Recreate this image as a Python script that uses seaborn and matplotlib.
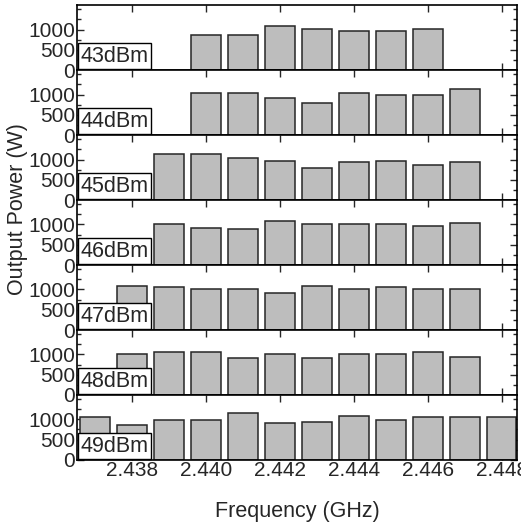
import matplotlib
matplotlib.use("Agg")
import matplotlib.pyplot as plt
from matplotlib.ticker import MultipleLocator
import seaborn as sns
import pandas as pd

# drive levels, one panel each
levels = ["43dBm", "44dBm", "45dBm", "46dBm", "47dBm", "48dBm", "49dBm"]

freq_43 = [2.440, 2.441, 2.442, 2.443, 2.444, 2.445, 2.446]
power_43 = [877, 877, 1098, 1008, 975, 975, 1008]

freq_44 = [2.440, 2.441, 2.442, 2.443, 2.444, 2.445, 2.446, 2.447]
power_44 = [1040, 1040, 927, 798, 1040, 992, 992, 1129]

freq_45 = [2.439, 2.440, 2.441, 2.442, 2.443, 2.444, 2.445, 2.446, 2.447]
power_45 = [1128, 1128, 1048, 966, 797, 928, 966, 862, 928]

freq_46 = [2.439, 2.440, 2.441, 2.442, 2.443, 2.444, 2.445, 2.446, 2.447]
power_46 = [1000, 920, 888, 1080, 1000, 1000, 1000, 960, 1040]

freq_47 = [2.438, 2.439, 2.440, 2.441, 2.442, 2.443, 2.444, 2.445, 2.446, 2.447]
power_47 = [1089, 1049, 1008, 1008, 902, 1089, 1008, 1049, 1008, 1008]

freq_48 = [2.438, 2.439, 2.440, 2.441, 2.442, 2.443, 2.444, 2.445, 2.446, 2.447]
power_48 = [1008, 1057, 1057, 902, 1008, 902, 1008, 1008, 1057, 943]

freq_49 = [2.437, 2.438, 2.439, 2.440, 2.441, 2.442, 2.443, 2.444, 2.445,
           2.446, 2.447, 2.448]
power_49 = [1057, 869, 984, 984, 1148, 902, 943, 1090, 984, 1057, 1057, 1057]

freqs = [freq_43, freq_44, freq_45, freq_46, freq_47, freq_48, freq_49]
powers = [power_43, power_44, power_45, power_46, power_47, power_48, power_49]

x_ticks = [2.438, 2.440, 2.442, 2.444, 2.446, 2.448]
y_ticks = [0, 500, 1000]

sns.set_style("ticks")
plt.rcParams["font.family"] = ["Liberation Sans", "DejaVu Sans"]
plt.rcParams["font.size"] = 15

fig, axes = plt.subplots(len(levels), 1, figsize=(5.21, 5.25), dpi=100, sharex=True)
fig.subplots_adjust(left=0.148, right=0.992, top=0.990, bottom=0.124, hspace=0)

for ax, level, f, p in zip(axes, levels, freqs, powers):
    df = pd.DataFrame({"freq": f, "power": p})
    sns.barplot(data=df, x="freq", y="power", native_scale=True, width=0.8,
                color="#bdbdbd", saturation=1, edgecolor="#262626",
                linewidth=1.1, ax=ax)
    ax.set_xlim(2.43651, 2.44841)
    ax.set_ylim(0, 1600)
    ax.set_yticks(y_ticks)
    ax.yaxis.set_minor_locator(MultipleLocator(250))
    ax.set_xticks(x_ticks)
    ax.tick_params(axis="both", which="both", direction="in", top=True, right=True,
                   labelsize=15, pad=1.5, width=1)
    ax.tick_params(which="major", length=5)
    ax.tick_params(which="minor", length=3)
    ax.set_xlabel("")
    ax.set_ylabel("")
    for s in ax.spines.values():
        s.set_linewidth(1.2)
        s.set_color("black")
    ax.annotate(level, xy=(0, 0), xycoords="axes fraction", xytext=(2.6, 2.4),
                textcoords="offset points", ha="left", va="bottom", fontsize=15.5,
                zorder=5,
                bbox=dict(boxstyle="square,pad=0.12", fc="white", ec="black", lw=1.0))

axes[-1].xaxis.set_major_formatter(plt.FuncFormatter(lambda v, _: f"{v:.3f}"))
axes[-1].tick_params(axis="x", pad=1)
axes[-1].set_xlabel("Frequency (GHz)", fontsize=15.5, labelpad=15)
fig.text(0.034, 1 - 209 / 525, "Output Power (W)", rotation=90, ha="center",
         va="center", fontsize=15.5)

fig.savefig("out.png", dpi=100)
